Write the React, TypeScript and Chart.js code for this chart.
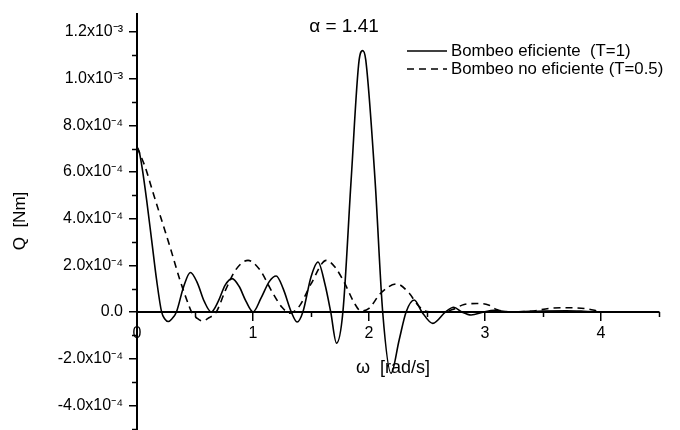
import React, { useEffect, useRef } from "react";
import { Chart, registerables } from "chart.js";

Chart.register(...registerables);

// ---- data ----
const omegaEfficient = [
  0, 0.02, 0.047, 0.083, 0.126, 0.169, 0.212, 0.24, 0.27, 0.3, 0.34, 0.4, 0.46, 0.52, 0.58, 0.64,
  0.7, 0.76, 0.82, 0.88, 0.94, 1.0, 1.07, 1.14, 1.2, 1.26, 1.33, 1.38, 1.43, 1.5, 1.56, 1.62,
  1.67, 1.72, 1.775, 1.846, 1.915, 1.946, 1.972, 2.052, 2.118, 2.19, 2.26, 2.32, 2.39, 2.456,
  2.55, 2.66, 2.73, 2.8, 2.88, 2.99, 3.08, 3.2, 3.3, 3.5, 3.7, 3.85, 3.98,
];
const torqueEfficient = [
  7.07e-4, 6.85e-4, 6.09e-4, 4.8e-4, 3.09e-4, 1.37e-4, 0, -0.3e-4, -0.41e-4, -0.3e-4, 0, 1.05e-4,
  1.69e-4, 1.25e-4, 0.45e-4, 0, 0.45e-4, 1.15e-4, 1.43e-4, 1.1e-4, 0.45e-4, 0, 0.6e-4, 1.3e-4,
  1.54e-4, 1.0e-4, 0, -0.43e-4, 0, 1.5e-4, 2.14e-4, 1.2e-4, 0, -1.34e-4, 0, 5.66e-4, 10.8e-4,
  11.2e-4, 10.8e-4, 5.66e-4, 0, -2.63e-4, -1.2e-4, 0, 0.51e-4, 0, -0.49e-4, 0, 0.2e-4, 0,
  -0.13e-4, 0, 0.07e-4, 0, 0.01e-4, 0.04e-4, 0.05e-4, 0.03e-4, 0,
];
const omegaInefficient = [
  0, 0.069, 0.14, 0.212, 0.284, 0.37, 0.44, 0.47, 0.52, 0.565, 0.62, 0.684, 0.76, 0.85, 0.957,
  1.06, 1.16, 1.25, 1.32, 1.4, 1.5, 1.632, 1.71, 1.79, 1.875, 1.93, 2.0, 2.1, 2.24, 2.347, 2.42,
  2.5, 2.62, 2.72, 2.82, 2.93, 3.03, 3.1, 3.2, 3.4, 3.55, 3.7, 3.87, 3.98,
];
const torqueInefficient = [
  7.07e-4, 6.23e-4, 5.09e-4, 3.94e-4, 2.8e-4, 1.37e-4, 0.37e-4, 0, -0.28e-4, -0.39e-4, -0.25e-4,
  0, 0.9e-4, 1.8e-4, 2.21e-4, 1.8e-4, 0.9e-4, 0.2e-4, -0.05e-4, 0.25e-4, 1.2e-4, 2.21e-4, 1.9e-4,
  1.23e-4, 0.37e-4, 0.04e-4, 0.15e-4, 0.8e-4, 1.2e-4, 0.8e-4, 0.3e-4, 0.02e-4, 0, 0.1e-4,
  0.32e-4, 0.36e-4, 0.3e-4, 0.1e-4, 0.01e-4, 0.03e-4, 0.15e-4, 0.18e-4, 0.14e-4, 0.03e-4,
];

const seriesLabels = ["Bombeo eficiente  (T=1)", "Bombeo no eficiente (T=0.5)"];
const xTickValues = [0, 1, 2, 3, 4];
const xTickLabels = ["0", "1", "2", "3", "4"];
const xMinorTicks = [0.5, 1.5, 2.5, 3.5, 4.5];
const yTickValues = [-4e-4, -2e-4, 0, 2e-4, 4e-4, 6e-4, 8e-4, 1e-3, 1.2e-3];
const yTickLabels = [
  "-4.0x10⁻⁴", "-2.0x10⁻⁴", "0.0", "2.0x10⁻⁴", "4.0x10⁻⁴", "6.0x10⁻⁴", "8.0x10⁻⁴", "1.0x10⁻³", "1.2x10⁻³",
];
const yMinorTicks = [-5e-4, -3e-4, -1e-4, 1e-4, 3e-4, 5e-4, 7e-4, 9e-4, 1.1e-3];
const chartTitle = "α = 1.41";
const xTitle = "ω  [rad/s]";
const yTitle = "Q  [Nm]";

const FONT = "'Liberation Sans', Arial, Helvetica, sans-serif";

const decorations = {
  id: "decorations",
  afterDraw(chart: any) {
    const { ctx, chartArea } = chart;
    const xs = chart.scales.x;
    const ys = chart.scales.y;
    const left = chartArea.left;
    const yZero = ys.getPixelForValue(0);
    ctx.save();
    ctx.strokeStyle = "#000";
    ctx.fillStyle = "#000";
    ctx.lineWidth = 1.5;
    ctx.beginPath();
    yMinorTicks.forEach((v) => {
      const py = Math.round(ys.getPixelForValue(v)) + 0.5;
      ctx.moveTo(left - 5, py);
      ctx.lineTo(left, py);
    });
    xMinorTicks.forEach((v) => {
      const px = Math.round(xs.getPixelForValue(v)) + 0.5;
      ctx.moveTo(px, yZero);
      ctx.lineTo(px, yZero + 5);
    });
    ctx.stroke();

    // title
    ctx.font = `19px ${FONT}`;
    ctx.textAlign = "center";
    ctx.textBaseline = "middle";
    ctx.fillText(chartTitle, 344, 27);

    // x axis title (inside plot, below zero line)
    ctx.font = `18px ${FONT}`;
    ctx.fillText(xTitle, 393, 368);

    // y axis title
    ctx.save();
    ctx.translate(20, 221);
    ctx.rotate(-Math.PI / 2);
    ctx.font = `17px ${FONT}`;
    ctx.fillText(yTitle, 0, 0);
    ctx.restore();

    // legend
    ctx.font = `16.8px ${FONT}`;
    ctx.textAlign = "left";
    chart.data.datasets.forEach((ds: any, i: number) => {
      const ly = 51 + i * 18;
      ctx.lineWidth = ds.borderWidth;
      ctx.setLineDash(ds.borderDash || []);
      ctx.beginPath();
      ctx.moveTo(407, ly);
      ctx.lineTo(447, ly);
      ctx.stroke();
      ctx.setLineDash([]);
      ctx.fillText(ds.label, 451, ly);
    });
    ctx.restore();
  },
};

export default function App() {
  const canvasRef = useRef<HTMLCanvasElement | null>(null);

  useEffect(() => {
    if (!canvasRef.current) return;
    const chart = new Chart(canvasRef.current, {
      type: "line",
      data: {
        datasets: [
          {
            label: seriesLabels[0],
            data: omegaEfficient.map((w, i) => ({ x: w, y: torqueEfficient[i] })),
            borderColor: "#000",
            borderWidth: 1.6,
            pointRadius: 0,
            cubicInterpolationMode: "monotone",
            fill: false,
          },
          {
            label: seriesLabels[1],
            data: omegaInefficient.map((w, i) => ({ x: w, y: torqueInefficient[i] })),
            borderColor: "#000",
            borderWidth: 1.6,
            borderDash: [7, 5],
            pointRadius: 0,
            cubicInterpolationMode: "monotone",
            fill: false,
          },
        ],
      },
      options: {
        animation: false,
        responsive: false,
        maintainAspectRatio: false,
        layout: { padding: { left: 0, top: 14, right: 21, bottom: 0 } },
        plugins: { legend: { display: false }, tooltip: { enabled: false }, title: { display: false } },
        scales: {
          x: {
            type: "linear",
            position: { y: 0 },
            min: 0,
            max: 4.5,
            afterBuildTicks: (scale: any) => {
              scale.ticks = xTickValues.map((v) => ({ value: v }));
            },
            afterFit: (scale: any) => {
              scale.paddingLeft = 0;
              scale.paddingRight = 0;
            },
            ticks: {
              callback: (_v: any, i: number) => xTickLabels[i],
              color: "#000",
              font: { family: FONT, size: 16 },
              padding: 4,
              maxRotation: 0,
              autoSkip: false,
            },
            grid: { drawOnChartArea: false, drawTicks: true, tickLength: 8, color: "#000", lineWidth: 1.5 },
            border: { display: true, color: "#000", width: 2 },
          },
          y: {
            type: "linear",
            position: "left",
            min: -5.06e-4,
            max: 12.77e-4,
            afterBuildTicks: (scale: any) => {
              scale.ticks = yTickValues.map((v) => ({ value: v }));
            },
            afterFit: (scale: any) => {
              scale.width = 137;
              scale.paddingTop = 0;
              scale.paddingBottom = 0;
            },
            ticks: {
              callback: (_v: any, i: number) => yTickLabels[i],
              color: "#000",
              font: { family: FONT, size: 16 },
              padding: 6,
              autoSkip: false,
            },
            grid: { drawOnChartArea: false, drawTicks: true, tickLength: 8, color: "#000", lineWidth: 1.5 },
            border: { display: true, color: "#000", width: 2 },
          },
        },
      },
      plugins: [decorations],
    });
    return () => chart.destroy();
  }, []);

  return (
    <div style={{ position: "fixed", left: 0, top: 0, width: 680, height: 430, overflow: "hidden", background: "#fff" }}>
      <canvas ref={canvasRef} width={680} height={430} style={{ display: "block" }} />
    </div>
  );
}
